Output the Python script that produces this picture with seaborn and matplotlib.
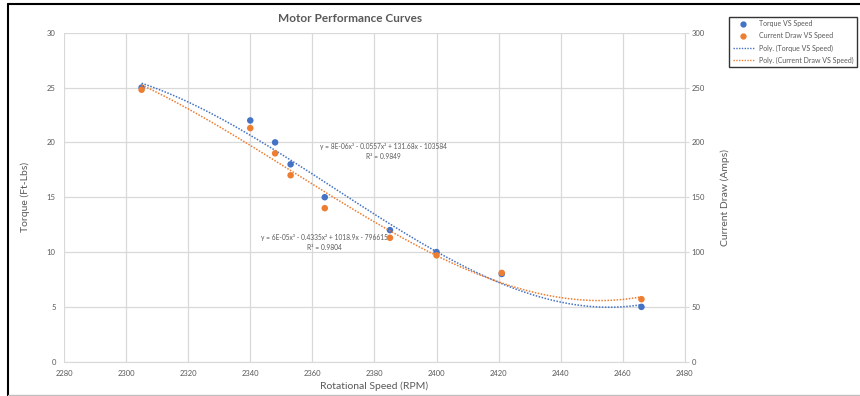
import numpy as np
import pandas as pd
import seaborn as sns
import matplotlib.pyplot as plt
from matplotlib.lines import Line2D

# data
speed_rpm = [2305, 2340, 2348, 2353, 2364, 2385, 2400, 2421, 2466]
torque_ftlbs = [25, 22, 20, 18, 15, 12, 10, 8, 5]
current_amps = [248, 213, 190, 170, 140, 113, 97, 81, 57]

torque_eq = "y = 8E-06x³ - 0.0557x² + 131.68x - 103584\nR² = 0.9849"
current_eq = "y = 6E-05x³ - 0.4335x² + 1018.9x - 796615\nR² = 0.9804"

df = pd.DataFrame({"speed": speed_rpm, "torque": torque_ftlbs, "current": current_amps})

blue = "#4472C4"
orange = "#ED7D31"
grey = "#595959"
grid = "#D9D9D9"

sns.set_style("white")
plt.rcParams["font.family"] = ["Lato", "DejaVu Sans"]

fig = plt.figure(figsize=(8.6, 3.96), dpi=100)
ax = fig.add_axes([0.0744, 0.0866, 0.722, 0.8308])
ax2 = ax.twinx()

# cubic trendlines, like Excel's Poly. order 3
xs = np.linspace(min(speed_rpm), max(speed_rpm), 200)
t_fit = np.polyval(np.polyfit(df["speed"], df["torque"], 3), xs)
c_fit = np.polyval(np.polyfit(df["speed"], df["current"], 3), xs)

sns.lineplot(x=xs, y=t_fit, ax=ax, color=blue, lw=1.1, linestyle=(0, (1, 1)), zorder=3)
sns.scatterplot(data=df, x="speed", y="torque", ax=ax, color=blue, s=22, edgecolor="none", zorder=4)
sns.lineplot(x=xs, y=c_fit, ax=ax2, color=orange, lw=1.1, linestyle=(0, (1, 1)), zorder=3)
sns.scatterplot(data=df, x="speed", y="current", ax=ax2, color=orange, s=22, edgecolor="none", zorder=4)

ax.set_xlim(2280, 2480)
ax.set_ylim(0, 30)
ax2.set_ylim(0, 300)
ax.set_xticks(range(2280, 2481, 20))
ax.set_yticks(range(0, 31, 5))
ax2.set_yticks(range(0, 301, 50))
ax.grid(True, color=grid, lw=0.9)
ax.set_axisbelow(True)

for a in (ax, ax2):
    for side in ("top", "left", "right", "bottom"):
        a.spines[side].set_visible(False)
ax.spines["bottom"].set_visible(True)
ax.spines["bottom"].set_color(grid)
ax2.spines["right"].set_visible(True)
ax2.spines["right"].set_color(grid)

ax.tick_params(axis="both", labelsize=5.5, labelcolor=grey, length=0, pad=6)
ax2.tick_params(axis="y", labelsize=5.5, labelcolor=grey, length=3, color=grid, pad=2)

ax.set_xlabel("Rotational Speed (RPM)", fontsize=7.5, color=grey, labelpad=3)
ax.set_ylabel("Torque (Ft-Lbs)", fontsize=7.5, color=grey, labelpad=12)
ax2.set_ylabel("Current Draw (Amps)", fontsize=7.5, color=grey, labelpad=11)
fig.text(350 / 860, 1 - 19 / 396, "Motor Performance Curves", fontsize=8.5,
         fontweight="bold", color=grey, ha="center", va="center")

ax.text(2383, 19.2, torque_eq, fontsize=4.8, color=grey, ha="center", va="center", linespacing=1.5)
ax.text(2364, 10.85, current_eq, fontsize=4.8, color=grey, ha="center", va="center", linespacing=1.5)

handles = [
    Line2D([], [], marker="o", ls="none", color=blue, markersize=3.5),
    Line2D([], [], marker="o", ls="none", color=orange, markersize=3.5),
    Line2D([], [], ls=(0, (1, 1)), color=blue, lw=1),
    Line2D([], [], ls=(0, (1, 1)), color=orange, lw=1),
]
labels = ["Torque VS Speed", "Current Draw VS Speed",
          "Poly. (Torque VS Speed)", "Poly. (Current Draw VS Speed)"]
leg = fig.legend(handles, labels, loc="upper left", bbox_to_anchor=(0.844, 0.967),
                 fontsize=5, frameon=True, fancybox=False, handlelength=3,
                 labelspacing=0.75, borderpad=0.5, labelcolor=grey)
leg.get_frame().set_edgecolor("black")
leg.get_frame().set_linewidth(1.0)

# chart border
fig.add_artist(Line2D([8 / 860, 8 / 860], [0.5 / 396, 1 - 4 / 396], color="black", lw=1.5))
fig.add_artist(Line2D([8 / 860, 1], [1 - 4 / 396, 1 - 4 / 396], color="black", lw=1.5))
fig.add_artist(Line2D([8 / 860, 1], [1.5 / 396, 1.5 / 396], color="#BFBFBF", lw=1))

fig.savefig("out.png", dpi=100)
